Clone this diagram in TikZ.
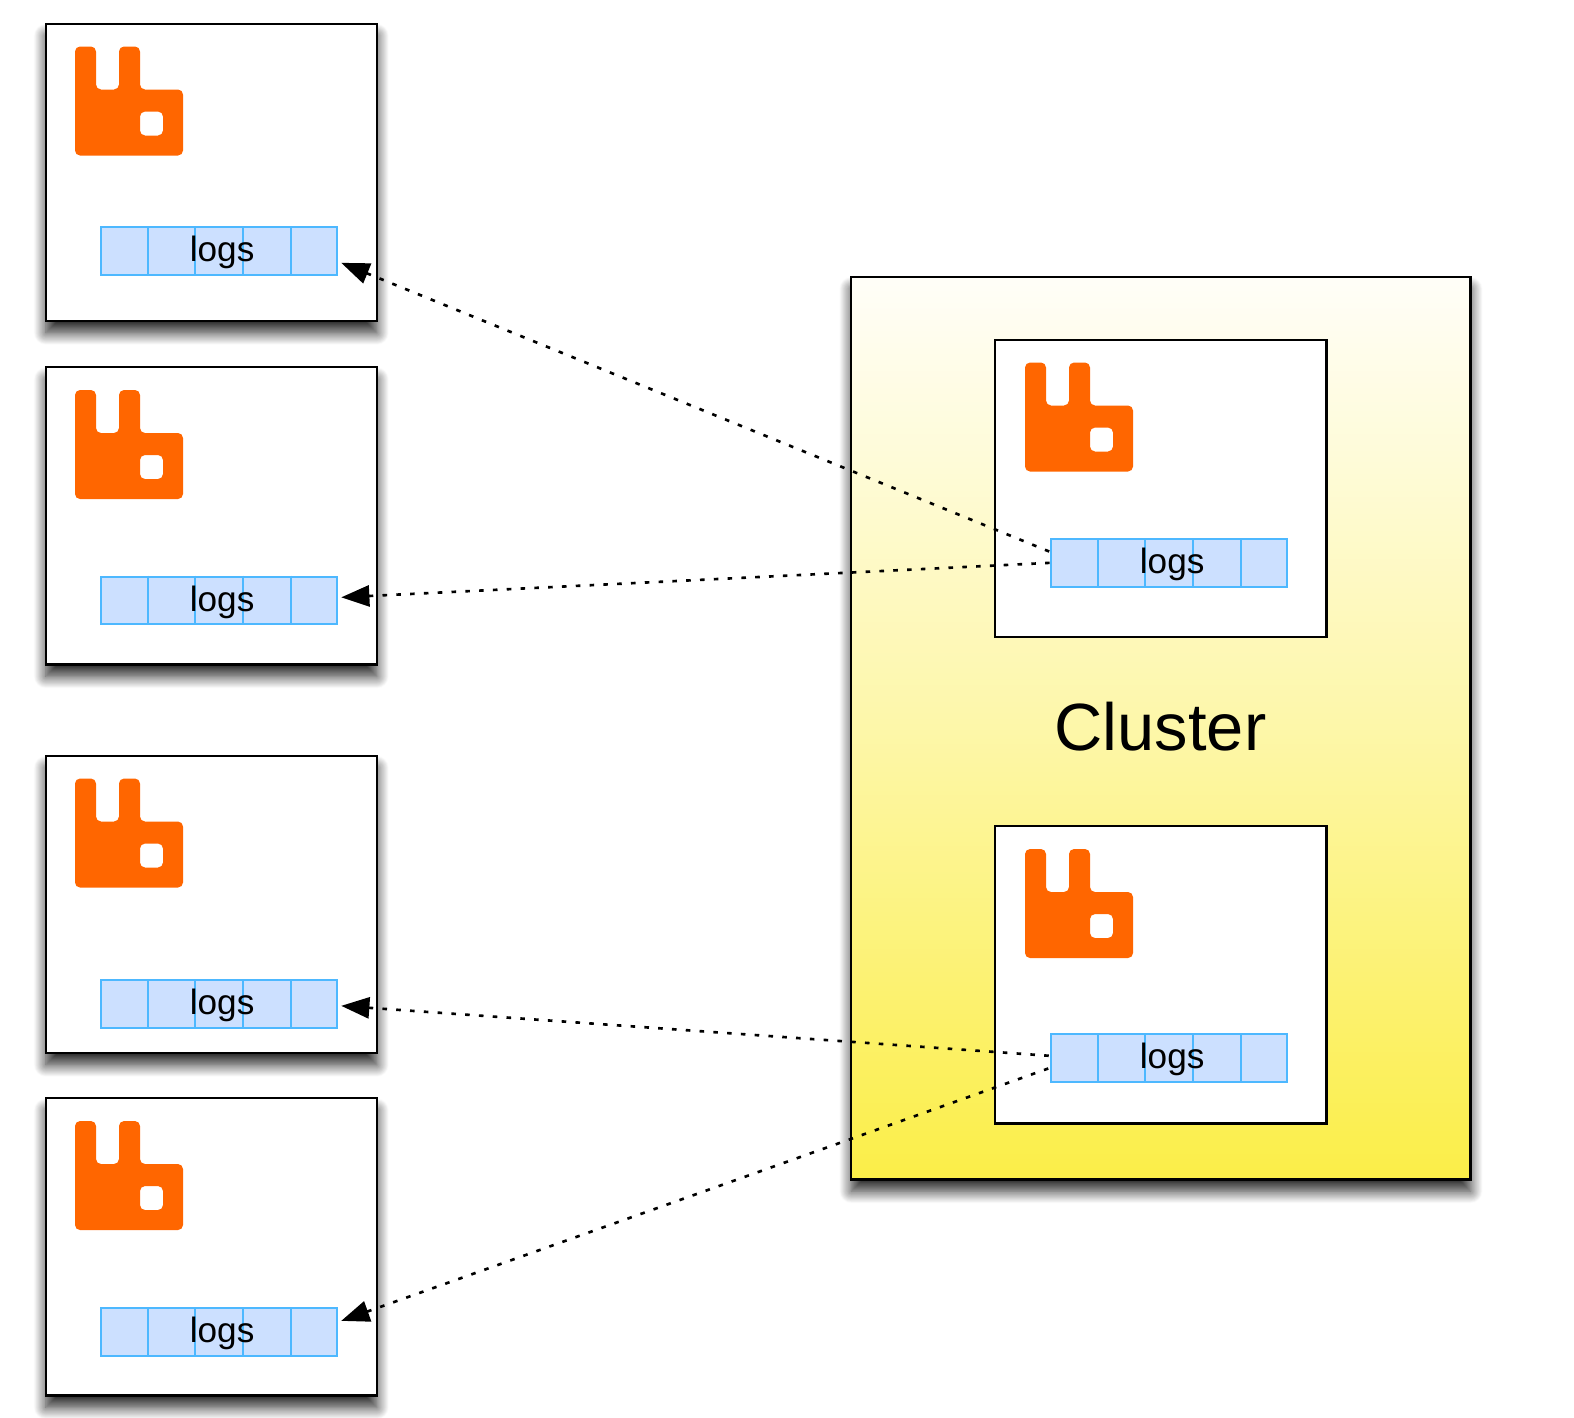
\documentclass[tikz,border=0pt]{standalone}
\usepackage{fontspec}
\setmainfont{Liberation Sans}
\usepackage{xcolor}
\usetikzlibrary{positioning,arrows.meta,calc,shadows.blur}
\definecolor{rabbitorange}{RGB}{255,102,0}
\definecolor{queueline}{RGB}{77,184,255}
\definecolor{queuefill}{RGB}{204,224,255}
\definecolor{clustertop}{RGB}{255,254,248}
\definecolor{clusterbottom}{RGB}{251,238,72}

\begin{document}
\begin{tikzpicture}[x=0.01cm,y=-0.01cm,
  nodebox/.style={rectangle, draw=black, fill=white, line width=0.7pt, anchor=north west,
                  inner sep=0pt, minimum width=3.31cm, minimum height=2.97cm},
  softshadow/.style={blur shadow={shadow xshift=0pt, shadow yshift=-0.12cm,
                  shadow blur radius=0.12cm, shadow blur steps=16, shadow opacity=85}},
  clusterbox/.style={rectangle, draw=black, line width=0.7pt, anchor=north west, inner sep=0pt,
                  minimum width=6.19cm, minimum height=9.02cm,
                  top color=clustertop, bottom color=clusterbottom, middle color=clusterbottom!45!clustertop},
  queuebox/.style={rectangle, draw=queueline, fill=queuefill, line width=0.6pt, anchor=north west,
                  inner sep=0pt, minimum width=2.36cm, minimum height=0.475cm},
  logstext/.style={inner sep=0pt, font=\fontsize{10}{12}\selectfont},
  mirror/.style={{Triangle[length=8pt,width=6pt]}-, draw=black, line width=0.75pt,
                  dash pattern=on 1.3pt off 2.63pt},
  rabbit/.pic={
    \fill[rabbitorange, rounded corners=0.05cm, even odd rule]
      (0,0) -- (21,0) -- (21,43) -- (44,43) -- (44,0) -- (65,0) -- (65,43) -- (108,43)
      -- (108,109) -- (0,109) -- cycle
      (65,65) -- (88,65) -- (88,89) -- (65,89) -- cycle;
  }
]
  \useasboundingbox (0,0) rectangle (1574,1417);

  % outer brokers
  \foreach \name/\top/\qtop in {a/22.5/226, b/366/575.5, c/754.5/979, d/1097/1307}{
    \node[nodebox,softshadow] (\name) at (44.5,\top) {};
    \pic at ([shift={(30.5,24)}]\name.north west) {rabbit};
    \node[queuebox] (q\name) at (100,\qtop) {};
    \foreach \i in {1,2,3,4}
      \draw[queueline, line width=0.6pt] ($(q\name.north west)!\i/5!(q\name.north east)$)
        -- ($(q\name.south west)!\i/5!(q\name.south east)$);
    \node[logstext] (t\name) at ([shift={(3,2)}]q\name.center) {logs};
  }

  % cluster
  \node[clusterbox,softshadow] (cluster) at (850,275.5) {};
  \node[font=\fontsize{19}{23}\selectfont, inner sep=0pt] (clusterlabel) at (1160.5,727) {Cluster};
  \foreach \name/\top/\qtop in {e/338.5/538, f/825/1033}{
    \node[nodebox] (\name) at (994,\top) {};
    \pic at ([shift={(31,24)}]\name.north west) {rabbit};
    \node[queuebox] (q\name) at (1050,\qtop) {};
    \foreach \i in {1,2,3,4}
      \draw[queueline, line width=0.6pt] ($(q\name.north west)!\i/5!(q\name.north east)$)
        -- ($(q\name.south west)!\i/5!(q\name.south east)$);
    \node[logstext] (t\name) at ([shift={(3,2)}]q\name.center) {logs};
  }

  % mirroring
  \draw[mirror] ([shift={(3,12)}]qa.east) -- ([yshift=0.11cm]qe.west);
  \draw[mirror] ([shift={(3,-3)}]qb.east) -- (qe.west);
  \draw[mirror] ([shift={(3,2)}]qc.east) -- ([yshift=0.02cm]qf.west);
  \draw[mirror] ([shift={(3,-11)}]qd.east) -- ([yshift=-0.1cm]qf.west);
\end{tikzpicture}
\end{document}
